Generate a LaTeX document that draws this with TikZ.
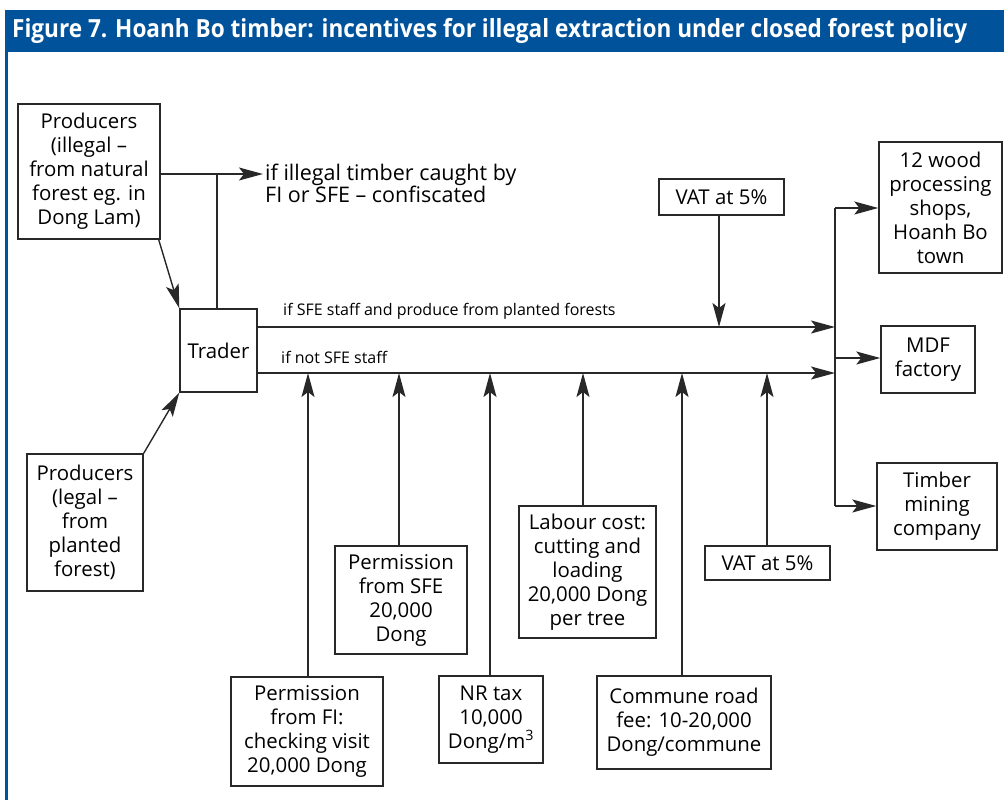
\documentclass[tikz,border=0pt]{standalone}
\usepackage{fontspec}
\setmainfont{Open Sans}
\usetikzlibrary{arrows.meta}
\definecolor{barblue}{RGB}{0,83,155}
\definecolor{ink}{RGB}{40,40,40}

\begin{document}
\begin{tikzpicture}[x=1pt,y=-1pt,
  box/.style={draw=ink,line width=1.4pt,inner sep=0pt,align=center,
    font=\fontsize{20.4}{24}\selectfont,text=black},
  flow/.style={draw=ink,line width=1.4pt},
  arr/.style={flow,-{Stealth[length=24pt,width=13pt,inset=5pt]}},
  lab/.style={inner sep=0pt,anchor=west,text=black,
    font=\fontsize{16}{19}\selectfont}]
\useasboundingbox (0,0) rectangle (1004,800);

% title bar and left rule
\fill[barblue] (5,10) rectangle (1004,52);
\fill[barblue] (5,52) rectangle (8,800);
\node[anchor=west,text=white,inner sep=0pt] (title) at (12,31)
  {\resizebox{955pt}{\height}{\bfseries\fontsize{25}{25}\selectfont
   Figure 7. Hoanh Bo timber: incentives for illegal extraction under closed forest policy}};

% producers and trader
\node[box,minimum width=142pt,minimum height=135pt] (pill) at (89,171.5)
  {Producers\\(illegal –\\from natural\\forest eg. in\\Dong Lam)};
\node[box,minimum width=116pt,minimum height=137pt] (pleg) at (85,522.5)
  {Producers\\(legal –\\from\\planted\\forest)};
\node[box,minimum width=77pt,minimum height=83pt] (trader) at (218.5,350.5) {Trader};

% buyers
\node[box,minimum width=123pt,minimum height=131pt] (wood) at (940.5,207.5)
  {12 wood\\processing\\shops,\\Hoanh Bo\\town};
\node[box,minimum width=94pt,minimum height=67pt] (mdf) at (928,359.5)
  {MDF\\factory};
\node[box,minimum width=120pt,minimum height=87pt] (timber) at (937,506.5)
  {Timber\\mining\\company};

% costs along the way
\node[box,minimum width=125pt,minimum height=36pt] (vat1) at (721.5,197) {VAT at 5\%};
\node[box,minimum width=125pt,minimum height=34pt] (vat2) at (767.5,563) {VAT at 5\%};
\node[box,minimum width=132pt,minimum height=108pt] (psfe) at (401,600)
  {Permission\\from SFE\\20,000\\Dong};
\node[box,minimum width=152pt,minimum height=109pt] (pfi) at (307,731.5)
  {Permission\\from FI:\\checking visit\\20,000 Dong};
\node[box,minimum width=104pt,minimum height=87pt] (nrtax) at (491,719.5)
  {NR tax\\10,000\\Dong/m\textsuperscript{3}};
\node[box,minimum width=137pt,minimum height=132pt] (labour) at (587.5,572)
  {Labour cost:\\cutting and\\loading\\20,000 Dong\\per tree};
\node[box,minimum width=174pt,minimum height=93pt] (commune) at (684,722.5)
  {Commune road\\fee: 10-20,000\\Dong/commune};

% confiscation branch
\coordinate (jconf) at (217,174);
\coordinate (confpt) at (263,174);
\draw[flow] (trader.north -| jconf) -- (jconf);
\draw[arr] (pill.east |- jconf) -- (confpt);
\node[anchor=north west,align=left,inner sep=0pt,text=black,
  font=\fontsize{21.5}{22}\selectfont] (conf) at (265,164)
  {if illegal timber caught by\\FI or SFE – confiscated};

% producers to trader
\draw[arr] ([xshift=-2pt]pill.south east) -- (trader.north west);
\draw[arr] (pleg.north east) -- (trader.south west);

% two routes to the buyers
\coordinate (jup) at (835,327);
\coordinate (jlow) at (835,373);
\draw[arr] (trader.east |- jup) -- (jup);
\draw[arr] (trader.east |- jlow) -- (jlow);
\node[lab] (labup) at (283,311) {if SFE staff and produce from planted forests};
\node[lab] (lablow) at (281,357) {if not SFE staff};

% distribution to buyers
\coordinate (jtop) at (835,208);
\coordinate (jmid) at (835,358);
\coordinate (jbot) at (835,506);
\draw[flow] (jtop) -- (jbot);
\draw[arr] (jtop) -- (wood.west |- jtop);
\draw[arr] (jmid) -- (mdf.west |- jmid);
\draw[arr] (jbot) -- (timber.west |- jbot);

% cost arrows
\draw[arr] ([xshift=-2.5pt]vat1.south) -- ([xshift=-2.5pt]vat1.south |- jup);
\draw[arr] ([xshift=1pt]pfi.north) -- ([xshift=1pt]pfi.north |- jlow);
\draw[arr] ([xshift=-2pt]psfe.north) -- ([xshift=-2pt]psfe.north |- jlow);
\draw[arr] ([xshift=-1pt]nrtax.north) -- ([xshift=-1pt]nrtax.north |- jlow);
\draw[arr] ([xshift=-4.5pt]labour.north) -- ([xshift=-4.5pt]labour.north |- jlow);
\draw[arr] ([xshift=-2pt]commune.north) -- ([xshift=-2pt]commune.north |- jlow);
\draw[arr] ([xshift=-0.5pt]vat2.north) -- ([xshift=-0.5pt]vat2.north |- jlow);
\end{tikzpicture}
\end{document}
